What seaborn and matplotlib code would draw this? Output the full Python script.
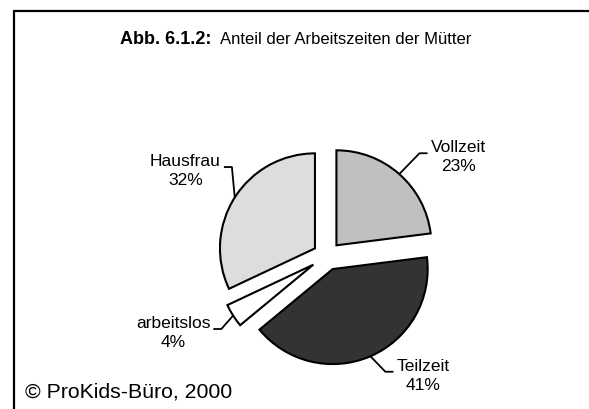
import numpy as np
import matplotlib
matplotlib.use("Agg")
import matplotlib.pyplot as plt
import seaborn as sns
from matplotlib.patches import Rectangle

# data
categories = ["Vollzeit", "Teilzeit", "arbeitslos", "Hausfrau"]
shares = [23, 41, 4, 32]
slice_colors = ["#c0c0c0", "#333333", "#ffffff", "#dddddd"]

title_bold = "Abb. 6.1.2:"
title_rest = "Anteil der Arbeitszeiten der Mütter"
source = "© ProKids-Büro, 2000"

# label placement (radius units, relative to pie centre)
label_pos = {
    "Vollzeit": (1.38, 1.05),
    "Teilzeit": (1.01, -1.25),
    "arbeitslos": (-1.62, -0.80),
    "Hausfrau": (-1.49, 0.905),
}

sns.set_theme(style="white")
plt.rcParams["font.family"] = ["Liberation Sans", "DejaVu Sans"]
plt.rcParams["text.color"] = "black"

W, H = 589, 410
R = 95.0                # pie radius in px
cx, cy = 327, H - 257   # pie centre in px from lower left

fig = plt.figure(figsize=(W / 100, H / 100), dpi=100)
fig.patch.set_facecolor("white")
ax = fig.add_axes([0, 0, 1, 1])

wedges, _ = ax.pie(
    shares, colors=slice_colors, startangle=90, counterclock=False,
    explode=[0.15, 0.15, 0.17, 0.15],
    wedgeprops=dict(edgecolor="black", linewidth=1.5),
)
ax.set_xlim(-cx / R, (W - cx) / R)
ax.set_ylim(-cy / R, (H - cy) / R)
ax.axis("off")

texts = []
for name, share in zip(categories, shares):
    x, y = label_pos[name]
    t = ax.text(x, y, f"{name}\n{share}%", ha="center", va="center",
                multialignment="center", fontsize=12.5, linespacing=1.3,
                color="black")
    texts.append(t)

# leader lines: arc midpoint -> elbow -> text edge
fig.canvas.draw()
rend = fig.canvas.get_renderer()
inv = ax.transData.inverted()
px = 1.0 / R
for w, t, name in zip(wedges, texts, categories):
    mid = np.deg2rad((w.theta1 + w.theta2) / 2)
    ax0 = w.center[0] + w.r * np.cos(mid)
    ay0 = w.center[1] + w.r * np.sin(mid)
    bb = t.get_window_extent(rend).transformed(inv)
    ly = label_pos[name][1] + 3 * px
    if label_pos[name][0] > 0:
        ex = bb.x0 - 3 * px
        elx = ex - 8 * px
    else:
        ex = bb.x1 + 3 * px
        elx = ex + 8 * px
    ax.plot([ax0, elx, ex], [ay0, ly, ly], color="black", lw=1.3,
            solid_capstyle="butt")

# title
fig.text(212 / W, 1 - 40 / H, title_bold, ha="right", va="center",
         fontsize=13, fontweight="bold", color="black")
fig.text(220 / W, 1 - 40 / H, title_rest, ha="left", va="center",
         fontsize=12, color="black")

# source note
fig.text(25 / W, 1 - 392 / H, source, ha="left", va="center",
         fontsize=15.3, color="black")

# frame (open to the right and bottom)
fig.add_artist(Rectangle((14 / W, -0.2), 1.2, 1.2 - 12 / H,
                         transform=fig.transFigure, fill=False,
                         edgecolor="black", linewidth=1.6))

fig.savefig("out.png", dpi=100)
